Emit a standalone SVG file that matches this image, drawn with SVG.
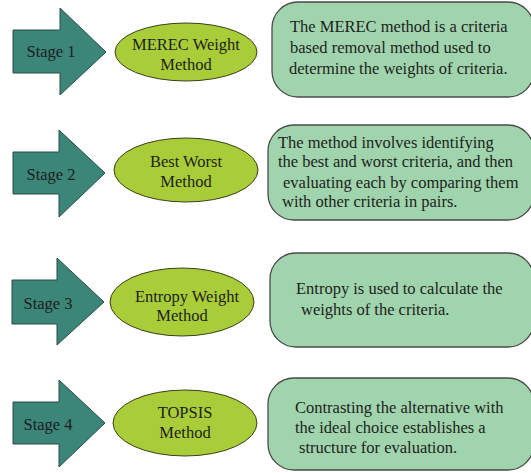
<svg xmlns="http://www.w3.org/2000/svg" width="531" height="473" viewBox="0 0 531 473">
  <style>
    .stage { fill: #3b8579; stroke: #2b4d47; stroke-width: 1; }
    .method { fill: #a9cd38; stroke: #3a3f1c; stroke-width: 1; }
    .desc { fill: #a0d4ac; stroke: #4a4a4a; stroke-width: 1.3; }
    .lbl { font-size: 16.5px; text-anchor: middle; fill: #1e1e1e; }
    .txt { font-size: 16.5px; fill: #1e1e1e; }
  </style>
  <rect width="531" height="473" fill="#ffffff"/>

  <g font-family="Liberation Serif, Tinos, DejaVu Serif, serif">
  <!-- Stage 1 -->
  <g id="stage1">
    <polygon class="stage" points="13,30 60,30 60,8 106,52 60,95 60,73 13,73"/>
    <text class="lbl" x="51" y="57">Stage 1</text>
  </g>
  <g id="method1">
    <ellipse class="method" cx="186" cy="52" rx="71" ry="29"/>
    <text class="lbl" x="186" y="50">MEREC Weight</text>
    <text class="lbl" x="186" y="70">Method</text>
  </g>
  <g id="desc1">
    <rect class="desc" x="272" y="2" width="262" height="95" rx="26"/>
    <text class="txt" x="290" y="32">The MEREC method is a criteria</text>
    <text class="txt" x="290" y="53">based removal method used to</text>
    <text class="txt" x="289" y="74">determine the weights of criteria.</text>
  </g>

  <!-- Stage 2 -->
  <g id="stage2">
    <polygon class="stage" points="13,152 59,152 59,130 105,173 59,217 59,194 13,194"/>
    <text class="lbl" x="51" y="180">Stage 2</text>
  </g>
  <g id="method2">
    <ellipse class="method" cx="186" cy="170" rx="72" ry="32"/>
    <text class="lbl" x="186" y="167">Best Worst</text>
    <text class="lbl" x="186" y="187">Method</text>
  </g>
  <g id="desc2">
    <rect class="desc" x="268" y="125" width="266" height="95" rx="26"/>
    <text class="txt" x="278" y="148">The method involves identifying</text>
    <text class="txt" x="278" y="167">the best and worst criteria, and then</text>
    <text class="txt" x="283" y="188">evaluating each by comparing them</text>
    <text class="txt" x="282" y="207">with other criteria in pairs.</text>
  </g>

  <!-- Stage 3 -->
  <g id="stage3">
    <polygon class="stage" points="12,280 57,280 57,258 104,302 57,345 57,324 12,324"/>
    <text class="lbl" x="48" y="309">Stage 3</text>
  </g>
  <g id="method3">
    <ellipse class="method" cx="182" cy="302" rx="72" ry="34"/>
    <text class="lbl" x="187" y="302">Entropy Weight</text>
    <text class="lbl" x="182" y="321">Method</text>
  </g>
  <g id="desc3">
    <rect class="desc" x="270" y="253" width="264" height="94" rx="26"/>
    <text class="txt" x="296" y="294">Entropy is used to calculate the</text>
    <text class="txt" x="301" y="315">weights of the criteria.</text>
  </g>

  <!-- Stage 4 -->
  <g id="stage4">
    <polygon class="stage" points="13,402 59,402 59,380 105,423 59,467 59,444 13,444"/>
    <text class="lbl" x="48" y="430">Stage 4</text>
  </g>
  <g id="method4">
    <ellipse class="method" cx="185" cy="423" rx="72" ry="33"/>
    <text class="lbl" x="185" y="418">TOPSIS</text>
    <text class="lbl" x="185" y="438">Method</text>
  </g>
  <g id="desc4">
    <rect class="desc" x="268" y="378" width="266" height="92" rx="26"/>
    <text class="txt" x="295" y="413">Contrasting the alternative with</text>
    <text class="txt" x="295" y="433">the ideal choice establishes a</text>
    <text class="txt" x="299" y="453">structure for evaluation.</text>
  </g>
  </g>

  <g id="connectors"/>
</svg>
